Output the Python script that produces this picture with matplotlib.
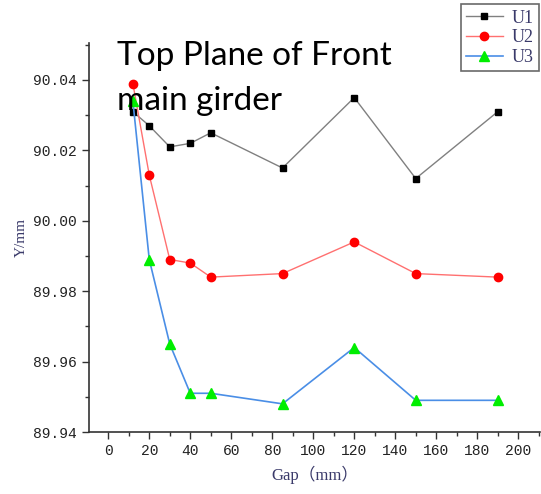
import matplotlib
matplotlib.use("Agg")
import matplotlib.pyplot as plt
from matplotlib.ticker import MultipleLocator, FormatStrFormatter

# data
gap = [12, 20, 30, 40, 50, 85, 120, 150, 190]
u1 = [90.031, 90.027, 90.021, 90.022, 90.025, 90.015, 90.035, 90.012, 90.031]
u2 = [90.039, 90.013, 89.989, 89.988, 89.984, 89.985, 89.994, 89.985, 89.984]
u3 = [90.034, 89.989, 89.965, 89.951, 89.951, 89.948, 89.964, 89.949, 89.949]

tick_font = "Liberation Mono"
label_color = "#3a3a6a"

fig = plt.figure(figsize=(5.41, 4.94), dpi=100)
ax = fig.add_axes([0.1645, 0.1255, 0.8336, 0.7874])

ax.plot(gap, u1, color="#808080", lw=1, marker="s", ms=5, mfc="black", mec="black", label="U1")
ax.plot(gap, u2, color="#ff7070", lw=1, marker="o", ms=6, mfc="red", mec="red", label="U2")
ax.plot(gap, u3, color="#4a8ee6", lw=1.2, marker="^", ms=7, mfc="#00ee00", mec="#00ee00", label="U3")

ax.set_xlim(-9.4, 210.6)
ax.set_ylim(89.94, 90.0505)

ax.xaxis.set_major_locator(MultipleLocator(20))
ax.xaxis.set_minor_locator(MultipleLocator(10))
ax.yaxis.set_major_locator(MultipleLocator(0.02))
ax.yaxis.set_minor_locator(MultipleLocator(0.01))
ax.yaxis.set_major_formatter(FormatStrFormatter("%.2f"))

for s in ["top", "right"]:
    ax.spines[s].set_visible(False)
for s in ["left", "bottom"]:
    ax.spines[s].set_color("#333333")
    ax.spines[s].set_linewidth(1.2)

ax.tick_params(which="major", direction="out", length=5, width=1, color="#333333",
               labelsize=10.5, labelcolor="#222222")
ax.tick_params(which="minor", direction="out", length=3, width=1, color="#333333")
for lab in ax.get_xticklabels() + ax.get_yticklabels():
    lab.set_family(tick_font)

ax.set_xlabel("Gap（mm）", fontsize=12, color=label_color,
              family=["Liberation Serif", "Noto Sans CJK SC"], labelpad=6)
ax.set_ylabel("Y/mm", fontsize=11, color=label_color, family="Liberation Serif", labelpad=4)

leg = ax.legend(loc="upper right", bbox_to_anchor=(0.998, 1.10), borderaxespad=0,
                frameon=True, fancybox=False, edgecolor="#444444", handlelength=2.0,
                handletextpad=0.5, borderpad=0.3, labelspacing=0.15,
                prop={"family": "Liberation Serif", "size": 13})
leg.get_frame().set_linewidth(1.2)
for t in leg.get_texts():
    t.set_color(label_color)

# overlay caption
fig.text(117 / 541, 1 - 41 / 494, "Top Plane of Front\nmain girder", fontsize=24,
         family="Lato", color="black", va="top", ha="left", linespacing=1.62)

fig.savefig("out.png", dpi=100)
